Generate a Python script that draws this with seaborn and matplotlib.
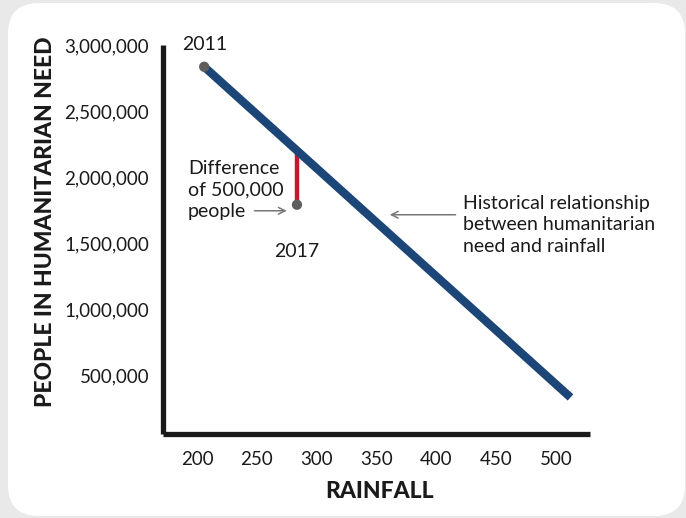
import matplotlib
matplotlib.use("Agg")
import matplotlib.pyplot as plt
from matplotlib.patches import FancyBboxPatch
import matplotlib.ticker as mticker
import numpy as np
import pandas as pd
import seaborn as sns

# ---- data ----
trend_rainfall = [206, 512]
trend_need = [2_835_000, 330_000]
point_years = ["2011", "2017"]
point_rainfall = [206, 283.5]
point_need = [2_835_000, 1_790_000]
x_ticks = [200, 250, 300, 350, 400, 450, 500]
y_ticks = [500_000, 1_000_000, 1_500_000, 2_000_000, 2_500_000, 3_000_000]

sns.set_theme(style="white")
plt.rcParams["font.family"] = ["Lato", "DejaVu Sans"]

BLUE = "#1b4677"
RED = "#c4172c"
GRAY_DOT = "#5e5e5e"
TEXT = "#1a1a1a"
FS = 14

fig = plt.figure(figsize=(6.86, 5.18), dpi=100)
fig.patch.set_facecolor("#e9e9e9")
card = FancyBboxPatch((8 / 686, 2 / 518), (677 / 686), (513 / 518),
                      boxstyle="round,pad=0,rounding_size=0.045",
                      transform=fig.transFigure, facecolor="white",
                      edgecolor="none", zorder=-10, mutation_aspect=686 / 518)
fig.patches.append(card)

ax = fig.add_axes([163 / 686, 1 - 434 / 518, 427 / 686, 389 / 518])
ax.set_facecolor("none")
ax.set_zorder(5)

trend = pd.DataFrame({"rainfall": trend_rainfall, "need": trend_need})
pts = pd.DataFrame({"year": point_years, "rainfall": point_rainfall, "need": point_need})

# gap line (2017 vs historical relationship)
gap_top = np.interp(point_rainfall[1], trend_rainfall, trend_need)
ax.plot([point_rainfall[1], point_rainfall[1]], [point_need[1], gap_top],
        color=RED, lw=3.2, solid_capstyle="butt", zorder=2)

sns.lineplot(data=trend, x="rainfall", y="need", ax=ax, color=BLUE, lw=6,
             zorder=3, legend=False)
ax.lines[-1].set_solid_capstyle("butt")
sns.scatterplot(data=pts, x="rainfall", y="need", ax=ax, color=GRAY_DOT,
                s=55, edgecolor="none", zorder=4, legend=False)

ax.set_xlim(171.6, 528.3)
ax.set_ylim(53_000, 2_977_000)

ax.set_xticks(x_ticks)
ax.set_yticks(y_ticks)
ax.yaxis.set_major_formatter(mticker.FuncFormatter(lambda v, p: f"{int(v):,}"))
ax.tick_params(axis="both", length=0, labelsize=13.5, colors=TEXT)
ax.tick_params(axis="y", pad=10)
ax.tick_params(axis="x", pad=12)

for s in ["top", "right"]:
    ax.spines[s].set_visible(False)
for s in ["left", "bottom"]:
    ax.spines[s].set_color("#1a1a1a")
    ax.spines[s].set_linewidth(3.8)
    ax.spines[s].set_capstyle("butt")

ax.set_xlabel("RAINFALL", fontsize=16.5, fontweight="black", color=TEXT)
ax.set_ylabel("PEOPLE IN HUMANITARIAN NEED", fontsize=16.5, fontweight="black",
              color=TEXT)
ax.xaxis.set_label_coords((380 - 163) / 427, -(491 - 434) / 389)
ax.xaxis.label.set_va("center")
ax.yaxis.set_label_coords(-(163 - 45) / 427, (434 - 222) / 389)
ax.yaxis.label.set_va("center")

# annotations
ax.text(206.7, 3_000_000, point_years[0], ha="center", va="center",
        fontsize=FS, color=TEXT, clip_on=False)
ax.text(283.5, 1_437_000, point_years[1], ha="center", va="center",
        fontsize=FS, color=TEXT)
ax.text(192.5, 1_902_000, "Difference\nof 500,000\npeople", ha="left",
        va="center", fontsize=FS, color=TEXT, linespacing=1.32)
ax.annotate("", xy=(275, 1_744_000), xytext=(248, 1_744_000),
            arrowprops=dict(arrowstyle="->", color="#777777", lw=1.1,
                            shrinkA=0, shrinkB=0))
ax.text(422, 1_639_000, "Historical relationship\nbetween humanitarian\nneed and rainfall",
        ha="left", va="center", fontsize=FS, color=TEXT, linespacing=1.32)
ax.annotate("", xy=(361, 1_714_000), xytext=(416, 1_714_000),
            arrowprops=dict(arrowstyle="->", color="#777777", lw=1.1,
                            shrinkA=0, shrinkB=0))

fig.savefig("out.png", dpi=100, facecolor=fig.get_facecolor())
